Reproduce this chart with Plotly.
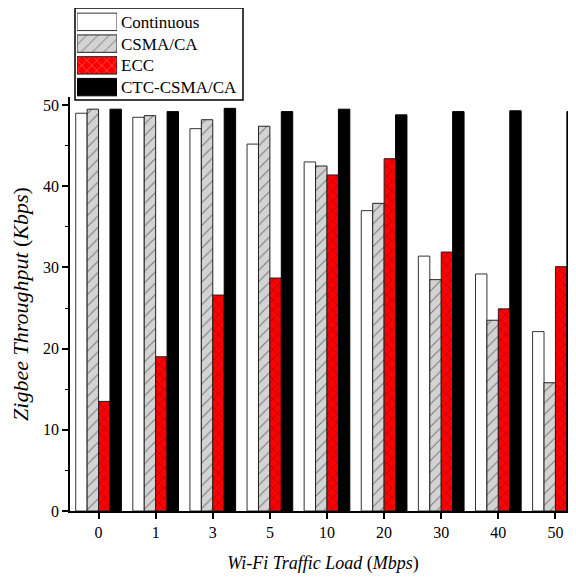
import plotly.graph_objects as go

categories = ["0", "1", "3", "5", "10", "20", "30", "40", "50"]
continuous = [49.0, 48.5, 47.1, 45.2, 43.0, 37.0, 31.4, 29.2, 22.1]
csma_ca = [49.5, 48.7, 48.2, 47.4, 42.5, 37.9, 28.5, 23.5, 15.8]
ecc = [13.5, 19.0, 26.6, 28.7, 41.4, 43.4, 31.9, 24.9, 30.1]
ctc_csma_ca = [49.5, 49.2, 49.6, 49.2, 49.5, 48.8, 49.2, 49.3, 49.2]
series_names = ["Continuous", "CSMA/CA", "ECC", "CTC-CSMA/CA"]

FONT = "Liberation Serif"

fills = ["white", "#d3d3d3", "#ff0000", "black"]
outlines = ["#333333", "#222222", "#222222", "black"]
shapes_ = ["", "/", "x", ""]
sizes_ = [8, 8, 7, 8]
solids = [0.12, 0.12, 0.15, 0.12]

fig = go.Figure()
for name, vals, fc, lc, sh, sz, so in zip(series_names,
                                          [continuous, csma_ca, ecc, ctc_csma_ca],
                                          fills, outlines, shapes_, sizes_, solids):
    fig.add_trace(go.Bar(
        name=name, x=categories, y=vals, showlegend=False,
        marker=dict(color=fc, line=dict(color=lc, width=1),
                    pattern=dict(shape=sh, bgcolor=fc, fgcolor="#111111",
                                 size=sz, solidity=so)),
    ))

# legend drawn as swatches on a small inset axis
fig.add_trace(go.Bar(
    y=series_names, x=[1] * len(series_names), orientation="h",
    xaxis="x2", yaxis="y2", showlegend=False, hoverinfo="skip",
    marker=dict(color=fills, line=dict(color=outlines, width=1),
                pattern=dict(shape=shapes_, bgcolor=fills, fgcolor="#111111",
                             size=sizes_, solidity=solids)),
))

# page has 8px body margin: figure area shifted accordingly
W, H = 568, 570
ML, MR, MT, MB = 62, 0, 2, 67
pw, ph = W - ML - MR, H - MT - MB


def fx(px):
    return (px - 8 - ML) / pw


def fy(py):
    return (H - MB - (py - 8)) / ph


def clamp(v):
    return max(0.0, min(1.0, v))


fig.update_layout(
    width=W, height=H,
    margin=dict(l=ML, r=MR, t=MT, b=MB),
    paper_bgcolor="white", plot_bgcolor="white",
    barmode="group", bargap=0.2, bargroupgap=0.0,
    font=dict(family=FONT, size=16, color="black"),
    showlegend=False,
    xaxis2=dict(domain=[clamp(fx(77)), clamp(fx(117))], range=[0, 1], anchor="y2",
                visible=False, fixedrange=True),
    yaxis2=dict(domain=[clamp(fy(98)), clamp(fy(11))], anchor="x2", side="right",
                type="category", autorange="reversed",
                showline=False, showgrid=False, zeroline=False, ticks="",
                ticklabelstandoff=3,
                tickfont=dict(family=FONT, size=17, color="black")),
    shapes=[dict(type="rect", xref="paper", yref="paper",
                 x0=fx(75), x1=fx(243), y0=fy(100), y1=fy(8),
                 line=dict(color="black", width=1.5), fillcolor="rgba(0,0,0,0)",
                 layer="above")],
)

fig.update_layout(xaxis=dict(
    type="category", range=[-0.5, 8.36],
    showline=True, linecolor="black", linewidth=2,
    ticks="outside", ticklen=6, tickwidth=1.5, tickcolor="black",
    showgrid=False, zeroline=False,
    tickfont=dict(family=FONT, size=16),
    title=dict(text="<i>Wi-Fi Traffic Load </i>(<i>Mbps</i>)",
               font=dict(family=FONT, size=18), standoff=16),
))
fig.update_layout(yaxis=dict(
    domain=[0, clamp(fy(97))],
    range=[0, 51.0],
    showline=True, linecolor="black", linewidth=1.5,
    ticks="outside", ticklen=6, tickwidth=1.5, tickcolor="black",
    dtick=10, showgrid=False, zeroline=False,
    minor=dict(dtick=5, ticks="outside", ticklen=3, tickcolor="black", tickwidth=1.2),
    tickfont=dict(family=FONT, size=16),
    title=dict(text="<i>Zigbee Throughput </i>(<i>Kbps</i>)",
               font=dict(family=FONT, size=22), standoff=8),
))

fig.write_html("out.html")
